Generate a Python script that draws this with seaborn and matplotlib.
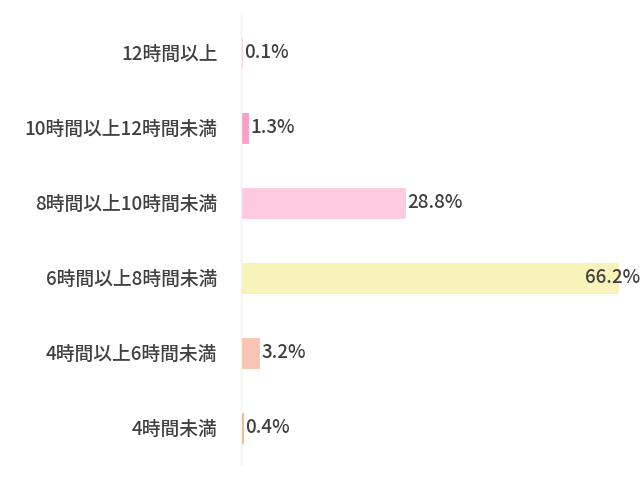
import pandas as pd
import seaborn as sns
import matplotlib.pyplot as plt

categories = ['12時間以上', '10時間以上12時間未満', '8時間以上10時間未満',
              '6時間以上8時間未満', '4時間以上6時間未満', '4時間未満']
values = [0.1, 1.3, 28.8, 66.2, 3.2, 0.4]
colors = ['#f9c9da', '#f9a0c4', '#ffc9e0', '#f8f3b9', '#f7c5b1', '#f0b77a']

df = pd.DataFrame({'category': categories, 'value': values})

sns.set_theme(style='white')
plt.rcParams['font.family'] = ['Noto Sans CJK JP', 'DejaVu Sans']

fig = plt.figure(figsize=(6.4, 4.82), dpi=100)
ax = fig.add_axes([241 / 640, 17 / 482, 399 / 640, 450 / 482])

sns.barplot(data=df, x='value', y='category', hue='category', palette=colors,
            orient='h', width=0.4, legend=False, ax=ax, saturation=1)
for bar, c in zip(ax.patches, colors):
    bar.set_edgecolor(c)
    bar.set_linewidth(0.6)

# longest bar ends around x=618 px
ax.set_xlim(0, 66.2 * 399 / 377)
ax.set_ylim(5.5, -0.5)
ax.set_xlabel('')
ax.set_ylabel('')
ax.set_xticks([])
ax.tick_params(axis='y', length=0, pad=17, labelsize=13.5, labelcolor='#404040')
for lbl in ax.get_yticklabels():
    lbl.set_fontweight('medium')

for s in ['top', 'right', 'bottom']:
    ax.spines[s].set_visible(False)
ax.spines['left'].set_color('#f2f2f2')
ax.spines['left'].set_linewidth(1)

vmax = max(values)
for i, v in enumerate(values):
    label = f'{v}%'
    if v == vmax:
        ax.annotate(label, xy=(1, i), xycoords=('axes fraction', 'data'),
                    ha='right', va='center', fontsize=13.5, color='#404040',
                    fontweight='medium')
    else:
        ax.annotate(label, xy=(v, i), xytext=(1.5, 0), textcoords='offset points',
                    ha='left', va='center', fontsize=13.5, color='#404040',
                    fontweight='medium')

fig.savefig('out.png', dpi=100)
